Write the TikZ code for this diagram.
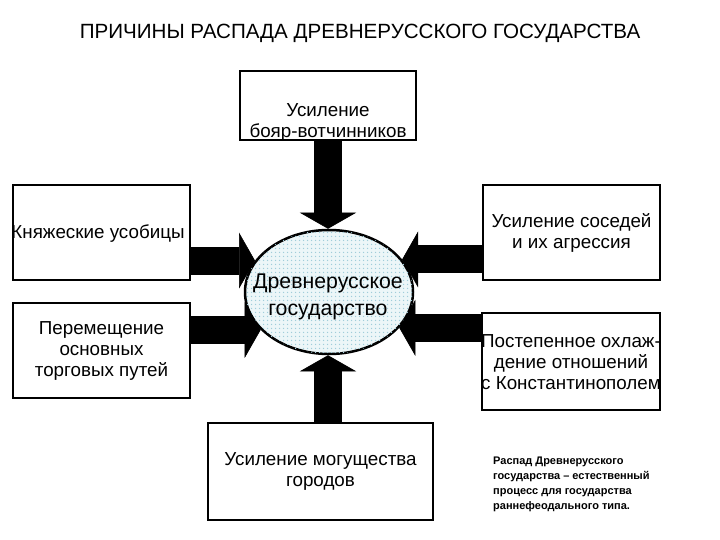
\documentclass[tikz,border=0pt]{standalone}
\usepackage{fontspec}
\setmainfont{Liberation Sans}
\usetikzlibrary{shapes.geometric, arrows.meta, positioning, patterns.meta}

\definecolor{hubfill}{RGB}{236,246,248}
\definecolor{hubdots}{RGB}{160,205,218}

\begin{document}
\begin{tikzpicture}[
    x=1pt, y=-1pt,
    box/.style={draw, rectangle, line width=2.5pt, align=center, font=\fontsize{18.8}{21}\selectfont},
    boxtext/.style={align=center, font=\fontsize{18.8}{21}\selectfont},
    hub/.style={draw, ellipse, line width=2.5pt, minimum width=168pt, minimum height=124pt, fill=hubfill,
        postaction={pattern={Dots[distance=4pt, radius=0.9pt]}, pattern color=hubdots}},
    hubtext/.style={align=center, font=\fontsize{21.3}{27}\selectfont},
    title/.style={font=\fontsize{20.6}{23}\selectfont},
    note/.style={anchor=north west, inner sep=0pt, align=left, font=\bfseries\fontsize{11}{15}\selectfont},
    arrow/.style={-{Triangle[width=56pt, length=16pt, line width=0.5pt]}, line width=28pt}
]
    \useasboundingbox (0,0) rectangle (720,540);

    % Title
    \node[title] (title) at (360,33) {ПРИЧИНЫ РАСПАДА ДРЕВНЕРУССКОГО ГОСУДАРСТВА};

    % Old Rus state
    \node[hub] (state) at (329,292) {};
    \node[hubtext] (statetext) at (328,297) {Древнерусское\\государство};

    % Boyars
    \node[box, minimum width=176pt, minimum height=69pt] (boyars) at (328,105.5) {};
    \node[boxtext] (boyarstext) at (328,122) {Усиление\\бояр-вотчинников};

    % Princely strife
    \node[box, minimum width=177pt, minimum height=95pt] (strife) at (101.5,232.5) {};
    \node[boxtext] (strifetext) at (98,234) {Княжеские усобицы};

    % Trade routes
    \node[box, minimum width=177pt, minimum height=95pt] (routes) at (101.5,350.5) {Перемещение\\основных\\торговых путей};

    % Neighbours
    \node[box, minimum width=177pt, minimum height=95pt] (neighbours) at (571.5,232.5) {Усиление соседей\\и их агрессия};

    % Constantinople
    \node[box, minimum width=178pt, minimum height=97pt] (constantinople) at (571,361.5) {};
    \node[boxtext] (constantinopletext) at (571,362) {Постепенное охлаж-\\дение отношений\\с Константинополем};

    % Cities
    \node[box, minimum width=225pt, minimum height=97pt] (cities) at (320.5,471.5) {Усиление могущества\\городов};

    % Note
    \node[note] (note) at (493,457) {Распад Древнерусского\\государства – естественный\\процесс для государства\\раннефеодального типа.};

    % Arrows
    \draw[arrow] (boyars.south) -- (boyars.south |- state.north);
    \draw[arrow] (cities.north -| boyars.south) -- (boyars.south |- state.south);
    \draw[arrow] (state.157 -| strife.east) -- (state.157);
    \draw[arrow] (state.209 -| routes.east) -- (state.209);
    \draw[arrow] (state.24 -| neighbours.west) -- (state.24);
    \draw[arrow] (state.333 -| constantinople.west) -- (state.333);

\end{tikzpicture}
\end{document}
